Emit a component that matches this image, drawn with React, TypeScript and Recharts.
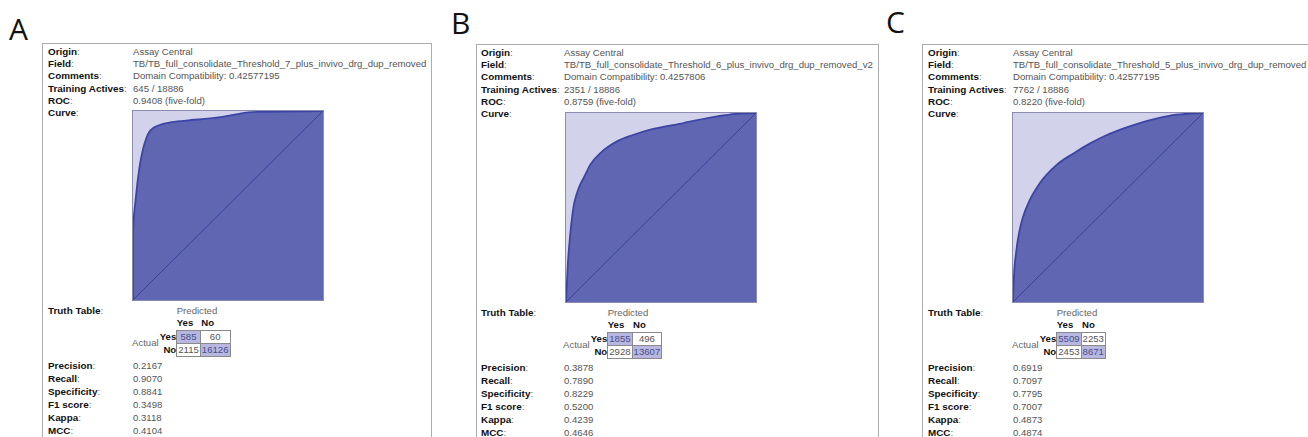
import React from "react";
import { ComposedChart, Area, Line, XAxis, YAxis } from "recharts";

// row labels shared by all three model cards
const infoLabels = ["Origin", "Field", "Comments", "Training Actives", "ROC", "Curve"];
const metricLabels = ["Precision", "Recall", "Specificity", "F1 score", "Kappa", "MCC"];

const infoA = [
  "Assay Central",
  "TB/TB_full_consolidate_Threshold_7_plus_invivo_drg_dup_removed",
  "Domain Compatibility: 0.42577195",
  "645 / 18886",
  "0.9408 (five-fold)",
  "",
];
const infoB = [
  "Assay Central",
  "TB/TB_full_consolidate_Threshold_6_plus_invivo_drg_dup_removed_v2",
  "Domain Compatibility: 0.4257806",
  "2351 / 18886",
  "0.8759 (five-fold)",
  "",
];
const infoC = [
  "Assay Central",
  "TB/TB_full_consolidate_Threshold_5_plus_invivo_drg_dup_removed",
  "Domain Compatibility: 0.42577195",
  "7762 / 18886",
  "0.8220 (five-fold)",
  "",
];

// ROC curves: false positive rate vs true positive rate
const fprA = [0, 0, 0.014, 0.035, 0.052, 0.07, 0.087, 0.105, 0.14, 0.192, 0.28, 0.45, 0.55, 0.65, 1];
const tprA = [0, 0.357, 0.532, 0.708, 0.795, 0.856, 0.891, 0.909, 0.926, 0.939, 0.949, 0.966, 0.984, 0.995, 1];
const fprB = [0, 0.009, 0.023, 0.04, 0.058, 0.075, 0.093, 0.128, 0.181, 0.268, 0.356, 0.444, 0.619, 0.795, 0.9, 1];
const tprB = [0, 0.189, 0.365, 0.506, 0.577, 0.622, 0.656, 0.727, 0.788, 0.85, 0.885, 0.912, 0.947, 0.982, 0.996, 1];
const fprC = [0, 0.004, 0.018, 0.035, 0.053, 0.088, 0.14, 0.228, 0.316, 0.404, 0.491, 0.579, 0.667, 0.754, 0.86, 1];
const tprC = [0, 0.116, 0.275, 0.38, 0.451, 0.539, 0.627, 0.724, 0.785, 0.838, 0.882, 0.917, 0.947, 0.97, 0.991, 1];

// truth tables: [[TP, FN], [FP, TN]]
const truthA = [[585, 60], [2115, 16126]];
const truthB = [[1855, 496], [2928, 13607]];
const truthC = [[5509, 2253], [2453, 8671]];

const metricsA = ["0.2167", "0.9070", "0.8841", "0.3498", "0.3118", "0.4104"];
const metricsB = ["0.3878", "0.7890", "0.8229", "0.5200", "0.4239", "0.4646"];
const metricsC = ["0.6919", "0.7097", "0.7795", "0.7007", "0.4873", "0.4874"];

const diagonal = [
  { fpr: 0, diag: 0 },
  { fpr: 1, diag: 1 },
];

const toPoints = (fpr: number[], tpr: number[]) => fpr.map((x, i) => ({ fpr: x, tpr: tpr[i] }));

const FONT = '"Liberation Sans", Arial, Helvetica, sans-serif';
const FS_LABEL = 9.9;
const FS_VALUE = 9.6;

function RocPlot({ data, w, h }: { data: { fpr: number; tpr: number }[]; w: number; h: number }) {
  return (
    <div style={{ width: w, height: h, background: "#d2d2ea", outline: "1px solid #8c8cb0" }}>
      <ComposedChart width={w} height={h} data={data} margin={{ top: 0, right: 0, bottom: 0, left: 0 }}>
        <XAxis type="number" dataKey="fpr" domain={[0, 1]} hide />
        <YAxis type="number" domain={[0, 1]} hide />
        <Area
          type="monotone"
          dataKey="tpr"
          stroke="#3b45a6"
          strokeWidth={1.8}
          fill="#6166b2"
          fillOpacity={1}
          isAnimationActive={false}
        />
        <Line
          data={diagonal}
          type="linear"
          dataKey="diag"
          stroke="#3a429c"
          strokeWidth={1}
          dot={false}
          isAnimationActive={false}
        />
      </ComposedChart>
    </div>
  );
}

interface PanelProps {
  letter: string;
  letterX: number;
  letterY: number;
  boxX: number;
  boxY: number;
  boxW: number;
  labelDx: number;
  valueDx: number;
  plotDx: number;
  plotDy: number;
  info: string[];
  roc: { fpr: number; tpr: number }[];
  truth: number[][];
  metrics: string[];
}

function Label({ text }: { text: string }) {
  return (
    <span>
      <span style={{ fontWeight: "bold", color: "#111" }}>{text}</span>
      <span style={{ color: "#777" }}>:</span>
    </span>
  );
}

function Panel(p: PanelProps) {
  const plotW = 190;
  const plotH = 189;
  const labelX = p.boxX + p.labelDx;
  const valueX = p.boxX + p.valueDx;
  const plotX = p.boxX + p.plotDx;
  const plotY = p.boxY + p.plotDy;
  const plotBottom = plotY + plotH;
  const rowStyle: React.CSSProperties = {
    position: "absolute",
    fontFamily: FONT,
    fontSize: FS_LABEL,
    lineHeight: "12px",
    whiteSpace: "nowrap",
  };
  const valueStyle: React.CSSProperties = { ...rowStyle, fontSize: FS_VALUE, color: "#555" };
  const cell = (hi: boolean): React.CSSProperties => ({
    border: "1px solid #8a8a8a",
    background: hi ? "#b7b7e2" : "#fff",
    color: hi ? "#4a4f86" : "#555",
    padding: "0 1px",
    textAlign: "center",
    height: 12,
  });
  return (
    <>
      <div
        style={{
          position: "absolute",
          left: p.letterX,
          top: p.letterY,
          fontFamily: '"Open Sans", sans-serif',
          fontSize: 30,
          lineHeight: "30px",
          color: "#111",
        }}
      >
        {p.letter}
      </div>
      <div
        style={{
          position: "absolute",
          left: p.boxX,
          top: p.boxY,
          width: p.boxW,
          height: 420,
          border: "1px solid #acacac",
          background: "#fff",
        }}
      />
      {infoLabels.map((l, i) => (
        <React.Fragment key={l}>
          <div style={{ ...rowStyle, left: labelX, top: p.boxY + 3 + i * 12.2 }}>
            <Label text={l} />
          </div>
          <div style={{ ...valueStyle, left: valueX, top: p.boxY + 3 + i * 12.2 }}>{p.info[i]}</div>
        </React.Fragment>
      ))}
      <div style={{ position: "absolute", left: plotX, top: plotY }}>
        <RocPlot data={p.roc} w={plotW} h={plotH} />
      </div>
      <div style={{ ...rowStyle, left: labelX, top: plotBottom + 5 }}>
        <Label text="Truth Table" />
      </div>
      <table
        style={{
          position: "absolute",
          left: valueX - 1,
          top: plotBottom + 4,
          borderCollapse: "collapse",
          fontFamily: FONT,
          fontSize: FS_VALUE,
          lineHeight: "12px",
        }}
      >
        <tbody>
          <tr style={{ height: 13 }}>
            <td />
            <td />
            <td colSpan={2} style={{ color: "#666", padding: 0 }}>
              Predicted
            </td>
          </tr>
          <tr style={{ height: 13 }}>
            <td />
            <td />
            <td style={{ fontWeight: "bold", padding: 0, color: "#111" }}>Yes</td>
            <td style={{ fontWeight: "bold", padding: "0 1px", color: "#111" }}>No</td>
          </tr>
          <tr style={{ height: 13 }}>
            <td rowSpan={2} style={{ color: "#666", padding: "0 1px 0 0", verticalAlign: "middle" }}>
              Actual
            </td>
            <td style={{ fontWeight: "bold", color: "#111", padding: 0, textAlign: "right" }}>Yes</td>
            <td style={cell(true)}>{p.truth[0][0]}</td>
            <td style={cell(false)}>{p.truth[0][1]}</td>
          </tr>
          <tr style={{ height: 13 }}>
            <td style={{ fontWeight: "bold", color: "#111", padding: 0, textAlign: "right" }}>No</td>
            <td style={cell(false)}>{p.truth[1][0]}</td>
            <td style={cell(true)}>{p.truth[1][1]}</td>
          </tr>
        </tbody>
      </table>
      {metricLabels.map((l, i) => (
        <React.Fragment key={l}>
          <div style={{ ...rowStyle, left: labelX, top: plotBottom + 60 + i * 13 }}>
            <Label text={l} />
          </div>
          <div style={{ ...valueStyle, left: valueX, top: plotBottom + 60 + i * 13 }}>{p.metrics[i]}</div>
        </React.Fragment>
      ))}
    </>
  );
}

export default function App() {
  return (
    <div
      style={{
        position: "absolute",
        left: 0,
        top: 0,
        width: 1308,
        height: 437,
        overflow: "hidden",
        background: "#fff",
      }}
    >
      <Panel
        letter="A"
        letterX={9}
        letterY={14}
        boxX={42}
        boxY={43}
        boxW={388}
        labelDx={6}
        valueDx={91}
        plotDx={91}
        plotDy={68}
        info={infoA}
        roc={toPoints(fprA, tprA)}
        truth={truthA}
        metrics={metricsA}
      />
      <Panel
        letter="B"
        letterX={451}
        letterY={8}
        boxX={476}
        boxY={44}
        boxW={401}
        labelDx={5}
        valueDx={88}
        plotDx={90}
        plotDy={69}
        info={infoB}
        roc={toPoints(fprB, tprB)}
        truth={truthB}
        metrics={metricsB}
      />
      <Panel
        letter="C"
        letterX={886}
        letterY={7}
        boxX={922}
        boxY={44}
        boxW={400}
        labelDx={6}
        valueDx={91}
        plotDx={91}
        plotDy={69}
        info={infoC}
        roc={toPoints(fprC, tprC)}
        truth={truthC}
        metrics={metricsC}
      />
    </div>
  );
}
